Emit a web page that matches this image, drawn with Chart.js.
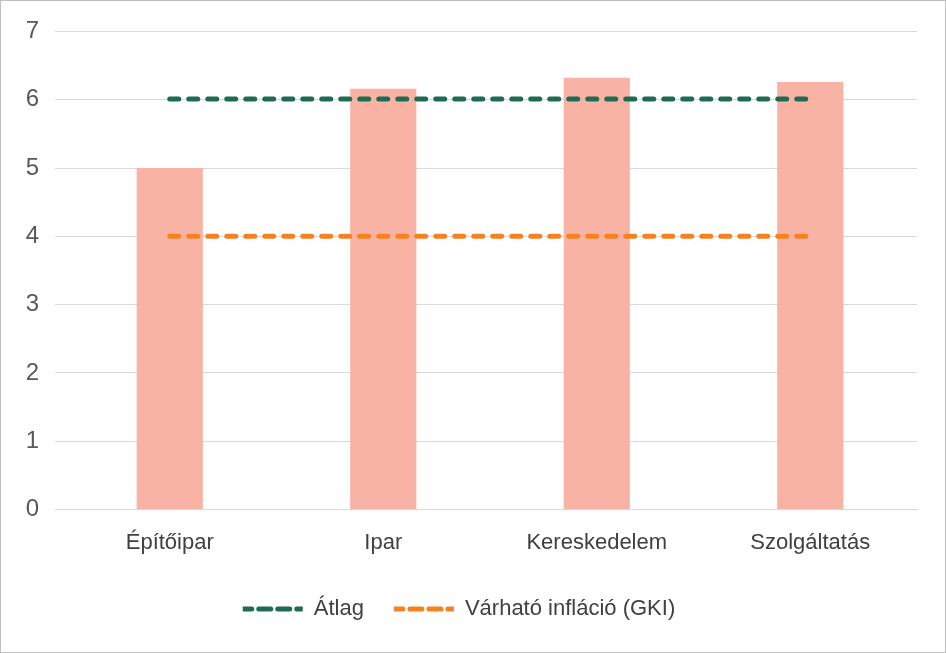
<!DOCTYPE html>
<html>
<head>
<meta charset="utf-8">
<script src="https://cdn.jsdelivr.net/npm/chart.js@4"></script>
<style>
  html, body { margin: 0; padding: 0; background: #fff; }
  #wrap { width: 944px; height: 651px; border: 1px solid #bfbfbf; }
</style>
</head>
<body>
<div id="wrap"><canvas id="chart" width="944" height="651"></canvas></div>
<script>
var categories = ['Építőipar', 'Ipar', 'Kereskedelem', 'Szolgáltatás'];
var barValues = [5.0, 6.16, 6.32, 6.26];
var averageValues = [6.01, 6.01, 6.01, 6.01];
var inflationValues = [4.0, 4.0, 4.0, 4.0];

var ctx = document.getElementById('chart').getContext('2d');
new Chart(ctx, {
    type: 'bar',
    data: {
        labels: categories,
        datasets: [{
            type: 'line',
            label: 'Átlag',
            data: averageValues,
            borderColor: '#1e6b52',
            backgroundColor: '#1e6b52',
            borderWidth: 5,
            borderDash: [9, 10],
            borderCapStyle: 'round',
            pointRadius: 0,
            order: 1
        }, {
            type: 'line',
            label: 'Várható infláció (GKI)',
            data: inflationValues,
            borderColor: '#f5821f',
            backgroundColor: '#f5821f',
            borderWidth: 5,
            borderDash: [9, 10],
            borderCapStyle: 'round',
            pointRadius: 0,
            order: 2
        }, {
            label: 'bars',
            data: barValues,
            backgroundColor: '#f9b3a5',
            categoryPercentage: 1,
            barPercentage: 0.31,
            order: 3
        }]
    },
    options: {
        responsive: false,
        animation: false,
        layout: { padding: { left: 0, right: 28, top: 8, bottom: 22 } },
        plugins: {
            tooltip: { enabled: false },
            legend: {
                position: 'bottom',
                labels: {
                    boxWidth: 60,
                    boxHeight: 0,
                    color: '#404040',
                    font: { family: 'Liberation Sans', size: 22 },
                    padding: 30,
                    generateLabels: function (chart) {
                        return chart.data.datasets.slice(0, 2).map(function (ds, i) {
                            return {
                                text: ds.label,
                                fillStyle: 'rgba(0,0,0,0)',
                                strokeStyle: ds.borderColor,
                                lineWidth: 5,
                                lineDash: [9, 10],
                                lineCap: 'round',
                                fontColor: '#404040',
                                datasetIndex: i
                            };
                        });
                    }
                }
            }
        },
        scales: {
            x: {
                grid: { display: false },
                border: { color: '#d9d9d9' },
                ticks: { color: '#404040', font: { family: 'Liberation Sans', size: 22 }, padding: 12 }
            },
            y: {
                min: 0,
                max: 7,
                afterFit: function (axis) { axis.width = 62; },
                grid: { color: '#d9d9d9' },
                border: { display: false },
                ticks: { stepSize: 1, color: '#595959', font: { family: 'Liberation Sans', size: 24 }, padding: 16 }
            }
        }
    }
});
</script>
</body>
</html>
